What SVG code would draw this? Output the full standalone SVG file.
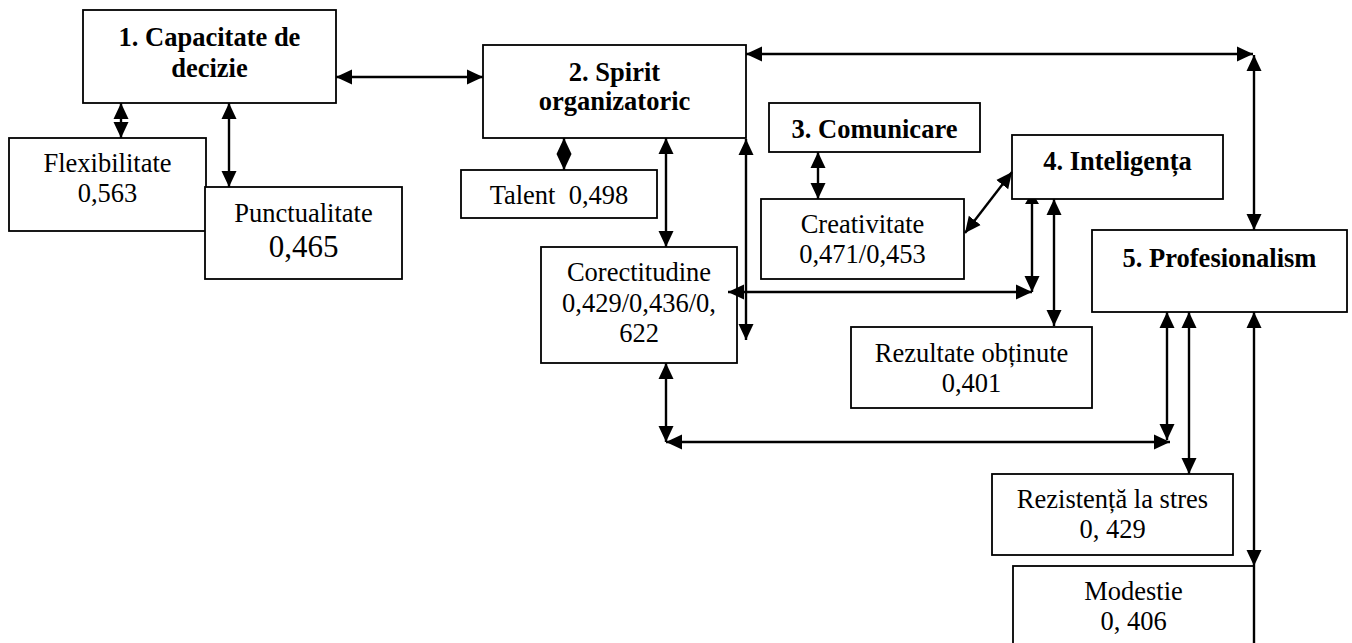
<svg xmlns="http://www.w3.org/2000/svg" width="1352" height="643" viewBox="0 0 1352 643">
<style>
.box{fill:#fff;stroke:#000;stroke-width:1.8}
.t{font-family:"Liberation Serif","Times New Roman",serif;font-size:26.5px;fill:#000;text-anchor:middle}
.b{font-weight:bold}
.c{fill:none;stroke:#000;stroke-width:2.4}
</style>
<defs>
<marker id="ah" markerUnits="userSpaceOnUse" markerWidth="17" markerHeight="16" refX="16" refY="8" orient="auto-start-reverse" viewBox="0 0 17 16">
<path d="M0,0.5 L16,8 L0,15.5 z" fill="#000"/>
</marker>
</defs>
<rect width="1352" height="643" fill="#fff"/>
<g id="n1"><rect class="box" x="83" y="10" width="253" height="93"/><text class="t b" x="209.5" y="46">1. Capacitate de</text><text class="t b" x="209.5" y="77">decizie</text></g>
<g id="nFlex"><rect class="box" x="9" y="138" width="197" height="93"/><text class="t" x="107.5" y="172">Flexibilitate</text><text class="t" x="107.5" y="202">0,563</text></g>
<g id="nPunct"><rect class="box" x="205" y="187" width="197" height="92"/><text class="t" x="303.5" y="222">Punctualitate</text><text class="t" x="303.5" y="257" style="font-size:31px">0,465</text></g>
<g id="n2"><rect class="box" x="483" y="45" width="263" height="93"/><text class="t b" x="614.5" y="81">2. Spirit</text><text class="t b" x="614.5" y="110">organizatoric</text></g>
<g id="nTalent"><rect class="box" x="461" y="170" width="196" height="48"/><text class="t" x="559" y="204" xml:space="preserve">Talent  0,498</text></g>
<g id="nCorect"><rect class="box" x="541" y="247" width="196" height="116"/><text class="t" x="639" y="281">Corectitudine</text><text class="t" x="639" y="312">0,429/0,436/0,</text><text class="t" x="639" y="342">622</text></g>
<g id="n3"><rect class="box" x="769" y="103" width="211" height="49"/><text class="t b" x="874.5" y="138">3. Comunicare</text></g>
<g id="nCreat"><rect class="box" x="761" y="199" width="203" height="80"/><text class="t" x="862.5" y="233">Creativitate</text><text class="t" x="862.5" y="263">0,471/0,453</text></g>
<g id="n4"><rect class="box" x="1012" y="135" width="211" height="64"/><text class="t b" x="1117.5" y="170">4. Inteligența</text></g>
<g id="nRez"><rect class="box" x="851" y="327" width="241" height="81"/><text class="t" x="971.5" y="362">Rezultate obținute</text><text class="t" x="971.5" y="392">0,401</text></g>
<g id="n5"><rect class="box" x="1092" y="230" width="255" height="82"/><text class="t b" x="1219.5" y="267">5. Profesionalism</text></g>
<g id="nStres"><rect class="box" x="992" y="474" width="241" height="81"/><text class="t" x="1112.5" y="508">Rezistență la stres</text><text class="t" x="1112.5" y="538">0, 429</text></g>
<g id="nMod"><rect class="box" x="1013" y="566" width="241" height="100"/><text class="t" x="1133.5" y="600">Modestie</text><text class="t" x="1133.5" y="630">0, 406</text></g>
<g id="connectors">
<path class="c" d="M336,77 L483,77" marker-start="url(#ah)" marker-end="url(#ah)"/>
<path class="c" d="M121,103 L121,138" marker-start="url(#ah)" marker-end="url(#ah)"/>
<path class="c" d="M229,103 L229,187" marker-start="url(#ah)" marker-end="url(#ah)"/>
<path class="c" d="M746,54 L1253,54" marker-start="url(#ah)" marker-end="url(#ah)"/>
<path class="c" d="M1254,55 L1254,230" marker-start="url(#ah)" marker-end="url(#ah)"/>
<path class="c" d="M564,138 L564,170" marker-start="url(#ah)" marker-end="url(#ah)"/>
<path class="c" d="M666,138 L666,247" marker-start="url(#ah)" marker-end="url(#ah)"/>
<path class="c" d="M746,139 L746,340" marker-start="url(#ah)" marker-end="url(#ah)"/>
<path class="c" d="M818,152 L818,199" marker-start="url(#ah)" marker-end="url(#ah)"/>
<path class="c" d="M965,233 L1012,172" marker-start="url(#ah)" marker-end="url(#ah)"/>
<path class="c" d="M1032,292 L728,292" marker-start="url(#ah)" marker-end="url(#ah)"/>
<path class="c" d="M1032,200 L1032,292" marker-end="url(#ah)"/>
<polygon points="1025,204 1039,204 1036,199 1028,199" fill="#000"/>
<path class="c" d="M1054,199 L1054,326" marker-start="url(#ah)" marker-end="url(#ah)"/>
<path class="c" d="M666,363 L666,442" marker-start="url(#ah)" marker-end="url(#ah)"/>
<path class="c" d="M666,442 L1170,442" marker-start="url(#ah)" marker-end="url(#ah)"/>
<path class="c" d="M1167,312 L1167,440" marker-start="url(#ah)" marker-end="url(#ah)"/>
<path class="c" d="M1189,312 L1189,474" marker-start="url(#ah)" marker-end="url(#ah)"/>
<path class="c" d="M1254,312 L1254,566" marker-start="url(#ah)" marker-end="url(#ah)"/>
<path class="c" d="M1254,566 L1254,643"/>
</g>
</svg>
